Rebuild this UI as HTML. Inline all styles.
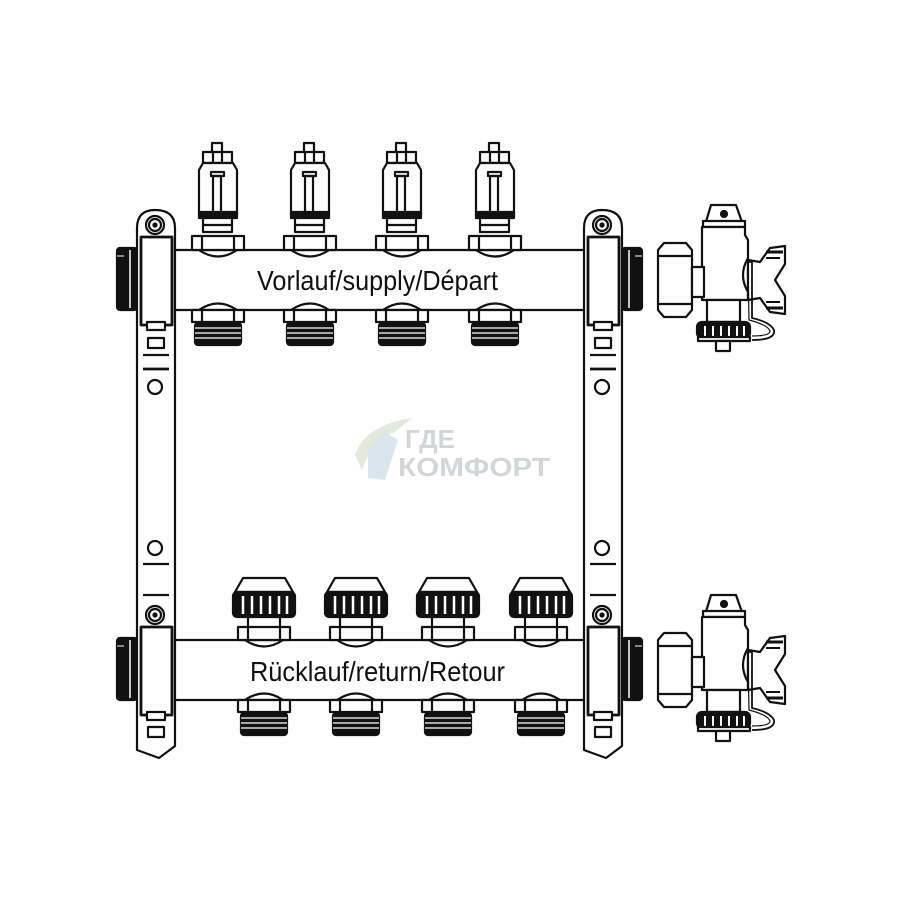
<!DOCTYPE html>
<html><head><meta charset="utf-8"><style>html,body{margin:0;padding:0;background:#fff}svg{display:block}</style></head>
<body>
<svg width="900" height="900" viewBox="0 0 900 900" xmlns="http://www.w3.org/2000/svg" fill="none" stroke="#111" stroke-width="2.2" stroke-linejoin="round">
<defs>
<g id="meter">
  <rect x="-5" y="143" width="10" height="10" fill="#fff"/>
  <rect x="-14" y="152" width="29" height="11" fill="#fff"/>
  <line x1="-4" y1="152" x2="-4" y2="163"/><line x1="5" y1="152" x2="5" y2="163"/>
  <path d="M-14 163 L-18 170 L-18 214 L20 214 L20 170 L16 163 Z" fill="#fff"/>
  <path d="M-6 172 L7 172 L7 176 L-6 176 Z"/>
  <rect x="-4" y="176" width="8" height="37"/>
  <rect x="-18" y="212" width="38" height="6" fill="#111"/>
  <rect x="-14" y="218" width="29" height="14" fill="#fff"/>
  <line x1="-14" y1="225" x2="15" y2="225"/>
  <rect x="-25" y="236" width="52" height="14" fill="#fff"/>
  <line x1="-15" y1="236" x2="-15" y2="250"/><line x1="17" y1="236" x2="17" y2="250"/>
  <path d="M-18 250 Q1 263 20 250"/>
</g>
<g id="outlet">
  <path d="M-18 310 Q1 297 20 310"/>
  <rect x="-25" y="310" width="52" height="12" fill="#fff"/>
  <line x1="-15" y1="310" x2="-15" y2="322"/><line x1="17" y1="310" x2="17" y2="322"/>
  <rect x="-22" y="323" width="46" height="22" rx="3" fill="#111"/>
  <line x1="-22" y1="328" x2="24" y2="328" stroke="#fff" stroke-width="1.2"/>
  <line x1="-22" y1="333" x2="24" y2="333" stroke="#fff" stroke-width="1.2"/>
  <line x1="-22" y1="338" x2="24" y2="338" stroke="#fff" stroke-width="1.2"/>
</g>
<g id="cap">
  <path d="M-20 578 L22 578 L30 592 L-28 592 Z" fill="#fff"/>
  <rect x="-30" y="592" width="62" height="25" rx="4" fill="#111"/>
  <g stroke="#fff" stroke-width="2.5">
    <line x1="-20" y1="596" x2="-20" y2="614"/><line x1="-11" y1="596" x2="-11" y2="614"/>
    <line x1="-2" y1="596" x2="-2" y2="614"/><line x1="7" y1="596" x2="7" y2="614"/>
    <line x1="16" y1="596" x2="16" y2="614"/><line x1="24" y1="596" x2="24" y2="614"/>
  </g>
  <rect x="-15" y="617" width="32" height="13" fill="#fff"/>
  <rect x="-25" y="627" width="52" height="13" fill="#fff"/>
  <line x1="-15" y1="627" x2="-15" y2="640"/><line x1="17" y1="627" x2="17" y2="640"/>
  <path d="M-18 640 Q1 653 20 640"/>
</g>
<g id="bracket">
  <path d="M0 22 Q0 4 18 4 Q38 4 38 22 L38 540 L22 552 L0 544 Z" fill="#fff"/>
  <circle cx="18" cy="19" r="9"/><circle cx="18" cy="19" r="6"/><circle cx="18" cy="19" r="1.5" fill="#111"/>
  <rect x="4" y="31" width="31" height="88" fill="#fff" stroke-width="2.8"/>
  <rect x="10" y="116" width="18" height="8" fill="#fff"/>
  <rect x="11" y="132" width="16" height="10"/>
  <line x1="6" y1="149" x2="32" y2="149"/>
  <line x1="6" y1="163" x2="32" y2="163" stroke-width="2.8"/>
  <circle cx="18" cy="181" r="7"/>
  <circle cx="18" cy="342" r="7"/>
  <line x1="6" y1="358" x2="32" y2="358"/>
  <line x1="6" y1="389" x2="32" y2="389"/>
  <circle cx="18" cy="409" r="9"/><circle cx="18" cy="409" r="6"/><circle cx="18" cy="409" r="1.5" fill="#111"/>
  <rect x="4" y="421" width="31" height="88" fill="#fff" stroke-width="2.8"/>
  <rect x="10" y="506" width="18" height="8" fill="#fff"/>
  <rect x="11" y="521" width="16" height="10"/>
</g>
<g id="threadL">
  <rect x="117" y="248" width="20" height="62" rx="3" fill="#111"/>
  <line x1="117" y1="256" x2="124" y2="256" stroke="#fff" stroke-width="1"/>
  <line x1="130" y1="250" x2="130" y2="308" stroke="#fff" stroke-width="1.5"/>
</g>
<g id="valve">
  <path d="M705 225 L711 205 L736 205 L743 225 Z" fill="#fff"/>
  <circle cx="724" cy="214" r="3" fill="#111"/>
  <rect x="703" y="221" width="42" height="6" fill="#fff"/>
  <path d="M702 227 L745 227 L745 235 L748 240 L748 300 L702 300 Z" fill="#fff"/>
  <path d="M658 250 L664 243 L686 243 L692 250 L692 310 L686 317 L664 317 L658 310 Z" fill="#fff"/>
  <line x1="658" y1="256" x2="692" y2="256"/><line x1="658" y1="304" x2="692" y2="304"/>
  <rect x="692" y="267" width="12" height="30" fill="#fff"/>
  <path d="M748 258 Q738 275 748 292" />
  <path d="M748 260 L760 262 L770 248 L785 246 L785 264 L775 280 L785 296 L785 314 L770 312 L760 298 L748 300 Z" fill="#fff"/>
  <line x1="766" y1="252" x2="783" y2="252" stroke-width="3"/><line x1="766" y1="258" x2="780" y2="258" stroke-width="2"/>
  <line x1="766" y1="302" x2="780" y2="302" stroke-width="2"/><line x1="766" y1="308" x2="783" y2="308" stroke-width="3"/>
  <rect x="707" y="300" width="33" height="22" fill="#fff"/>
  <rect x="697" y="322" width="53" height="16" rx="5" fill="#111"/>
  <g stroke="#fff" stroke-width="2"><line x1="705" y1="326" x2="705" y2="336"/><line x1="713" y1="326" x2="713" y2="336"/><line x1="721" y1="326" x2="721" y2="336"/><line x1="729" y1="326" x2="729" y2="336"/><line x1="737" y1="326" x2="737" y2="336"/><line x1="744" y1="326" x2="744" y2="336"/></g>
  <rect x="698" y="337" width="52" height="4" fill="#fff"/>
  <rect x="716" y="341" width="14" height="10" fill="#fff"/>
  <path d="M748 262 L752 262 L752 318 Q770 322 774 330 Q776 340 752 340" stroke-width="1.8"/>
  <path d="M748 266 L749 320 Q768 325 770 331 Q770 336 752 336" stroke-width="1.2"/>
</g>
</defs>

<line x1="137" y1="250" x2="622" y2="250"/><line x1="137" y1="310" x2="622" y2="310"/>
<line x1="137" y1="640" x2="622" y2="640"/><line x1="137" y1="700" x2="622" y2="700"/>

<use href="#threadL"/><use href="#threadL" transform="translate(0,390)"/>
<use href="#threadL" transform="translate(759,0) scale(-1,1)"/><use href="#threadL" transform="translate(759,390) scale(-1,1)"/>

<use href="#bracket" transform="translate(137,206)"/>
<use href="#bracket" transform="translate(584,206)"/>

<use href="#meter" transform="translate(217,0)"/><use href="#meter" transform="translate(309,0)"/>
<use href="#meter" transform="translate(401,0)"/><use href="#meter" transform="translate(494,0)"/>
<use href="#outlet" transform="translate(217,0)"/><use href="#outlet" transform="translate(309,0)"/>
<use href="#outlet" transform="translate(401,0)"/><use href="#outlet" transform="translate(494,0)"/>

<use href="#cap" transform="translate(263,0)"/><use href="#cap" transform="translate(355,0)"/>
<use href="#cap" transform="translate(447,0)"/><use href="#cap" transform="translate(540,0)"/>
<use href="#outlet" transform="translate(263,390)"/><use href="#outlet" transform="translate(355,390)"/>
<use href="#outlet" transform="translate(447,390)"/><use href="#outlet" transform="translate(540,390)"/>

<use href="#valve"/><use href="#valve" transform="translate(0,390)"/>

<text x="257" y="290" font-family="Liberation Sans, sans-serif" font-size="28" fill="#111" stroke="none" textLength="241" lengthAdjust="spacingAndGlyphs">Vorlauf/supply/Départ</text>
<text x="250" y="681" font-family="Liberation Sans, sans-serif" font-size="28" fill="#111" stroke="none" textLength="255" lengthAdjust="spacingAndGlyphs">Rücklauf/return/Retour</text>

<path d="M355 455 Q365 425 412 418 L395 432 Q372 440 362 470 Z" fill="#e3eadb" stroke="none"/>
<path d="M368 450 L385 432 L398 440 L385 480 L368 478 Z" fill="#d9e6ee" stroke="none"/>
<text x="405" y="448" font-family="Liberation Sans, sans-serif" font-weight="bold" font-size="26" fill="#d3d6d8" stroke="none">ГДЕ</text>
<text x="398" y="476" font-family="Liberation Sans, sans-serif" font-weight="bold" font-size="26" fill="#d3d6d8" stroke="none" textLength="152" lengthAdjust="spacingAndGlyphs">КОМФОРТ</text>
</svg>
</body></html>
